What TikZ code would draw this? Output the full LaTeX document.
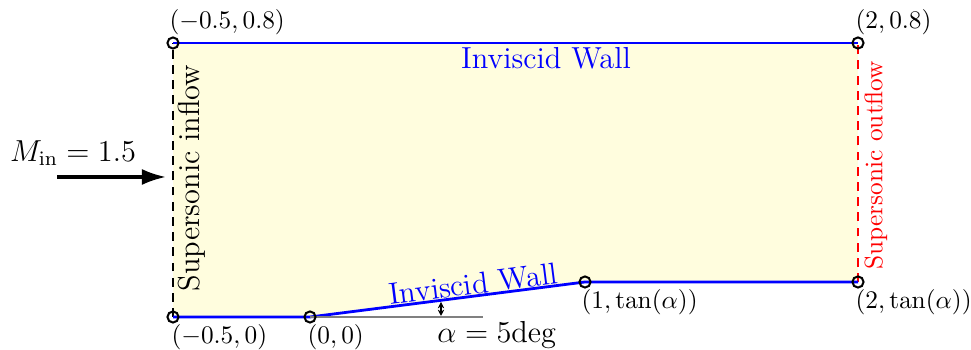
\documentclass[tikz,border=0pt]{standalone}
\usetikzlibrary{arrows.meta}
\definecolor{fillyel}{RGB}{255,253,222}
\begin{document}
\begin{tikzpicture}[x=0.395pt,y=-0.395pt,
  wall/.style={blue,line width=1.1pt},
  pt/.style={draw=black,line width=0.8pt,fill=none,circle,minimum size=4.4pt,inner sep=0pt},
  coordlbl/.style={inner sep=0pt,font=\normalsize}]
\useasboundingbox (0,0) rectangle (971,350);
\coordinate (A) at (173,317);
\coordinate (B) at (310,317);
\coordinate (C) at (585,282);
\coordinate (D) at (858,282);
\coordinate (E) at (858,43);
\coordinate (F) at (173,43);
\fill[fillyel] (A) -- (B) -- (C) -- (D) -- (E) -- (F) -- cycle;
\draw[black,line width=0.9pt,dash pattern=on 3.5pt off 2.5pt] (A) -- (F);
\draw[red,line width=0.9pt,dash pattern=on 3.5pt off 2.5pt] (D) -- (E);
\draw[wall] (F) -- (E);
\draw[wall] (A) -- (B) -- (C) -- (D);
\coordinate (G) at (483,317);
\draw[gray,line width=0.6pt] (B) -- (G);
\coordinate (H1) at (441,302);
\coordinate (H2) at (441,316);
\draw[line width=0.5pt,{Stealth[length=2.5pt,width=2.5pt]}-{Stealth[length=2.5pt,width=2.5pt]}] (H1) -- (H2);
\foreach \p in {A,B,C,D,E,F} \node[pt] (c\p) at (\p) {};
\node[coordlbl,anchor=north west] (lA) at (171,324) {$(-0.5,0)$};
\node[coordlbl,anchor=north west] (lB) at (307,324) {$(0,0)$};
\node[coordlbl,anchor=north west] (lC) at (581,289) {$(1,\tan(\alpha))$};
\node[coordlbl,anchor=north west] (lD) at (855,289) {$(2,\tan(\alpha))$};
\node[coordlbl,anchor=south west] (lF) at (169,35) {$(-0.5,0.8)$};
\node[coordlbl,anchor=south west] (lE) at (855,35) {$(2,0.8)$};
\node[blue,font=\large,inner sep=0pt] (w1) at (546,58) {Inviscid Wall};
\node[blue,font=\large,inner sep=0pt,rotate=7.25] (w2) at (473,284) {Inviscid Wall};
\node[font=\large,inner sep=0pt] (al) at (497,335) {$\alpha=5\mathrm{deg}$};
\node[font=\large,inner sep=0pt,rotate=90] (inf) at (192,178) {Supersonic inflow};
\node[red,font=\normalsize,inner sep=0pt,rotate=90] (outf) at (876,165) {Supersonic outflow};
\node[font=\large,inner sep=0pt] (M) at (73,153) {$M_{\mathrm{in}}=1.5$};
\coordinate (M1) at (57,177);
\coordinate (M2) at (166,177);
\draw[line width=1.2pt,-{Latex[length=9.5pt,width=6.3pt]}] (M1) -- (M2);
\end{tikzpicture}
\end{document}
